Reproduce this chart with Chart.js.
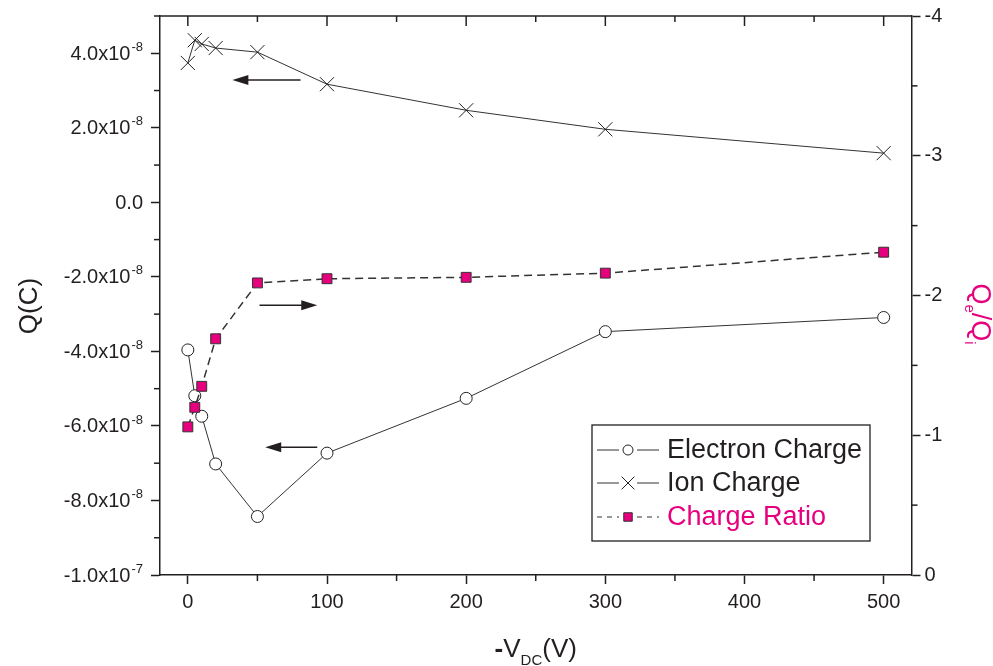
<!DOCTYPE html>
<html><head><meta charset="utf-8">
<script src="https://cdn.jsdelivr.net/npm/chart.js@4/dist/chart.umd.min.js"></script>
<style>html,body{margin:0;padding:0;background:#fff;}#wrap{width:993px;height:666px;}</style>
</head><body><div id="wrap"><canvas id="c" width="993" height="666"></canvas></div>
<script>
// ---- data ----
const voltages = [0, 5, 10, 20, 50, 100, 200, 300, 500];
const electronCharge = [-3.96e-8, -5.19e-8, -5.74e-8, -7.02e-8, -8.43e-8, -6.73e-8, -5.26e-8, -3.47e-8, -3.09e-8];
const ionCharge = [3.74e-8, 4.35e-8, 4.25e-8, 4.14e-8, 4.03e-8, 3.17e-8, 2.47e-8, 1.96e-8, 1.32e-8];
const chargeRatio = [-1.06, -1.20, -1.35, -1.69, -2.09, -2.12, -2.13, -2.16, -2.31];
const seriesNames = ['Electron Charge', 'Ion Charge', 'Charge Ratio'];
const xTicks = [0, 100, 200, 300, 400, 500];
const xMinorTicks = [50, 150, 250, 350, 450];
const qTicks = [-1e-7, -8e-8, -6e-8, -4e-8, -2e-8, 0, 2e-8, 4e-8];
const qTickLabels = ['-1.0x10^-7', '-8.0x10^-8', '-6.0x10^-8', '-4.0x10^-8', '-2.0x10^-8', '0.0', '2.0x10^-8', '4.0x10^-8'];
const qMinorTicks = [-9e-8, -7e-8, -5e-8, -3e-8, -1e-8, 1e-8, 3e-8, 5e-8];
const ratioTicks = [0, -1, -2, -3, -4];
const ratioMinorTicks = [-0.5, -1.5, -2.5, -3.5];
// annotation arrows in data coordinates (x: -V_DC, y: Q)
const arrowTails = [[81, 3.28e-8], [51.5, -2.76e-8], [93, -6.57e-8]];
const arrowHeads = [[32, 3.28e-8], [93, -2.76e-8], [55.6, -6.57e-8]];

const INK = '#231f20';
const MAGENTA = '#e6007e';
const FONT = '"Liberation Sans", Arial, sans-serif';

const pts = (ys) => voltages.map((v, i) => ({x: v, y: ys[i]}));

const decor = {
  id: 'decor',
  afterDraw(chart) {
    const ctx = chart.ctx, ca = chart.chartArea;
    const sx = chart.scales.x, sy = chart.scales.y, sy2 = chart.scales.y2;
    ctx.save();
    ctx.strokeStyle = INK; ctx.fillStyle = INK; ctx.lineWidth = 1.5;
    // top frame
    ctx.beginPath(); ctx.moveTo(ca.left, ca.top); ctx.lineTo(ca.right, ca.top); ctx.stroke();
    // top inward ticks
    xTicks.forEach(v => { const x = sx.getPixelForValue(v); ctx.beginPath(); ctx.moveTo(x, ca.top); ctx.lineTo(x, ca.top + 10); ctx.stroke(); });
    xMinorTicks.forEach(v => { const x = sx.getPixelForValue(v); ctx.beginPath(); ctx.moveTo(x, ca.top); ctx.lineTo(x, ca.top + 6); ctx.stroke(); });
    // bottom minor ticks
    xMinorTicks.forEach(v => { const x = sx.getPixelForValue(v); ctx.beginPath(); ctx.moveTo(x, ca.bottom); ctx.lineTo(x, ca.bottom + 6); ctx.stroke(); });
    // left minor ticks
    qMinorTicks.forEach(v => { const y = sy.getPixelForValue(v); ctx.beginPath(); ctx.moveTo(ca.left, y); ctx.lineTo(ca.left - 6, y); ctx.stroke(); });
    // right minor ticks
    ratioMinorTicks.forEach(v => { const y = sy2.getPixelForValue(v); ctx.beginPath(); ctx.moveTo(ca.right, y); ctx.lineTo(ca.right + 6, y); ctx.stroke(); });

    // left tick labels with superscripts
    const rightEdge = ca.left - 17;
    qTicks.forEach((v, i) => {
      const y = sy.getPixelForValue(v) + 1;
      const [base, sup] = qTickLabels[i].split('^');
      ctx.textBaseline = 'middle'; ctx.textAlign = 'left';
      ctx.font = '13px ' + FONT;
      const w2 = sup ? ctx.measureText(sup).width : 0;
      ctx.font = '20px ' + FONT;
      const w1 = ctx.measureText(base).width;
      const x0 = rightEdge - w2 - w1 - (sup ? 1 : 0);
      ctx.fillText(base, x0, y);
      if (sup) { ctx.font = '13px ' + FONT; ctx.fillText(sup, x0 + w1 + 1, y - 7); }
    });

    // left title
    ctx.save();
    ctx.translate(30, 306); ctx.rotate(-Math.PI / 2);
    ctx.font = '26px ' + FONT; ctx.textAlign = 'center'; ctx.textBaseline = 'middle';
    ctx.fillText('Q(C)', 0, 0);
    ctx.restore();

    // right title Q_e/Q_i
    ctx.save();
    ctx.fillStyle = MAGENTA;
    ctx.translate(981, 314); ctx.rotate(Math.PI / 2);
    ctx.textBaseline = 'alphabetic'; ctx.textAlign = 'left';
    const partsR = [['Q', 27, 0], ['e', 15, 7], ['/Q', 27, 0], ['i', 15, 7]];
    let tw = 0;
    partsR.forEach(p => { ctx.font = p[1] + 'px ' + FONT; tw += ctx.measureText(p[0]).width; });
    let cx = -tw / 2;
    partsR.forEach(p => { ctx.font = p[1] + 'px ' + FONT; ctx.fillText(p[0], cx, 9 + p[2]); cx += ctx.measureText(p[0]).width; });
    ctx.restore();

    // x title -V_DC(V)
    const partsX = [['-', 'bold 26px ', 0], ['V', '26px ', 0], ['DC', '15px ', 8], ['(V)', '26px ', 0]];
    let twx = 0;
    partsX.forEach(p => { ctx.font = p[1] + FONT; twx += ctx.measureText(p[0]).width; });
    let xx = (ca.left + ca.right) / 2 - twx / 2;
    ctx.textBaseline = 'alphabetic'; ctx.textAlign = 'left';
    partsX.forEach(p => { ctx.font = p[1] + FONT; ctx.fillText(p[0], xx, 657 + p[2]); xx += ctx.measureText(p[0]).width; });

    // arrows
    arrowTails.forEach((t, i) => {
      const h = arrowHeads[i];
      const x1 = sx.getPixelForValue(t[0]), y1 = sy.getPixelForValue(t[1]);
      const x2 = sx.getPixelForValue(h[0]), y2 = sy.getPixelForValue(h[1]);
      const dir = Math.sign(x2 - x1);
      ctx.lineWidth = 1.5;
      ctx.beginPath(); ctx.moveTo(x1, y1); ctx.lineTo(x2 - dir * 10, y2); ctx.stroke();
      ctx.beginPath(); ctx.moveTo(x2, y2); ctx.lineTo(x2 - dir * 16, y2 - 5); ctx.lineTo(x2 - dir * 16, y2 + 5); ctx.closePath(); ctx.fill();
    });

    // legend
    const bx = 592, by = 425, bw = 278, bh = 116;
    ctx.lineWidth = 1.3; ctx.strokeStyle = INK;
    ctx.strokeRect(bx, by, bw, bh);
    const rows = [450, 483, 517];
    const ds = chart.data.datasets;
    rows.forEach((ry, i) => {
      const d = ds[i];
      ctx.save();
      ctx.strokeStyle = '#333'; ctx.lineWidth = 1.2;
      if (d.borderDash) ctx.setLineDash([5, 5]);
      ctx.beginPath(); ctx.moveTo(597, ry); ctx.lineTo(619, ry); ctx.moveTo(637, ry); ctx.lineTo(659, ry); ctx.stroke();
      ctx.setLineDash([]);
      ctx.fillStyle = d.pointBackgroundColor; ctx.strokeStyle = d.pointBorderColor; ctx.lineWidth = 1;
      const r = d.pointStyle === 'circle' ? 5 : d.pointStyle === 'crossRot' ? 9 : 6;
      Chart.helpers.drawPoint(ctx, {pointStyle: d.pointStyle, radius: r, rotation: 0, borderWidth: 1}, 628, ry);
      ctx.restore();
      ctx.fillStyle = i === 2 ? MAGENTA : INK;
      ctx.font = '27px ' + FONT; ctx.textBaseline = 'middle'; ctx.textAlign = 'left';
      ctx.fillText(seriesNames[i], 667, ry + 1);
    });
    ctx.restore();
  }
};

const axisCommon = {
  grid: {display: true, drawOnChartArea: false, drawTicks: true, tickLength: 9, tickColor: INK, tickWidth: 1.5, color: INK},
  border: {display: true, color: INK, width: 1.5}
};

new Chart(document.getElementById('c'), {
  type: 'line',
  data: {
    datasets: [
      {label: seriesNames[0], data: pts(electronCharge), yAxisID: 'y', borderColor: '#333', borderWidth: 1,
       pointStyle: 'circle', pointRadius: 6, pointBackgroundColor: '#fff', pointBorderColor: '#222', pointBorderWidth: 1, order: 3},
      {label: seriesNames[1], data: pts(ionCharge), yAxisID: 'y', borderColor: '#333', borderWidth: 1,
       pointStyle: 'crossRot', pointRadius: 10, pointBackgroundColor: '#fff', pointBorderColor: '#222', pointBorderWidth: 1, order: 2},
      {label: seriesNames[2], data: pts(chargeRatio), yAxisID: 'y2', borderColor: '#333', borderWidth: 1.5, borderDash: [8, 5],
       pointStyle: 'rect', pointRadius: 7, pointBackgroundColor: MAGENTA, pointBorderColor: '#333', pointBorderWidth: 1, order: 1}
    ]
  },
  options: {
    responsive: false, animation: false, devicePixelRatio: 1,
    layout: {padding: {top: 15, left: 0, right: 0, bottom: 0}},
    plugins: {legend: {display: false}, tooltip: {enabled: false}},
    scales: {
      x: Object.assign({}, axisCommon, {
        type: 'linear', position: 'bottom', min: -20, max: 520,
        afterBuildTicks: (s) => { s.ticks = xTicks.map(v => ({value: v})); },
        afterFit: (s) => { s.height = 91; },
        ticks: {color: INK, font: {family: FONT, size: 20}, padding: 6, maxRotation: 0, autoSkip: false}
      }),
      y: Object.assign({}, axisCommon, {
        type: 'linear', position: 'left', min: -1e-7, max: 5e-8,
        afterBuildTicks: (s) => { s.ticks = qTicks.map(v => ({value: v})); },
        afterFit: (s) => { s.width = 160; },
        ticks: {display: false}
      }),
      y2: Object.assign({}, axisCommon, {
        type: 'linear', position: 'right', min: -4, max: 0, reverse: true,
        afterBuildTicks: (s) => { s.ticks = ratioTicks.map(v => ({value: v})); },
        afterFit: (s) => { s.width = 81.5; },
        ticks: {color: INK, font: {family: FONT, size: 20}, padding: 4, autoSkip: false, callback: (v) => String(v)}
      })
    }
  },
  plugins: [decor]
});
</script>
</body></html>
